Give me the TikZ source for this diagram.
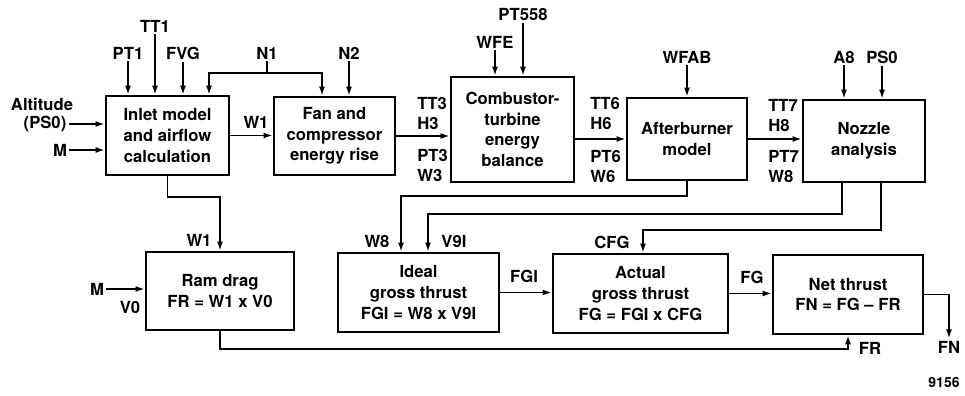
\documentclass[tikz,border=0pt]{standalone}
\usepackage{fontspec}
\setmainfont{TeX Gyre Heros}
\usetikzlibrary{arrows.meta,positioning,calc}
\tikzset{
  blk/.style={draw, line width=1.6pt, align=center, inner sep=2pt,
    font=\bfseries\fontsize{12.5}{15.5}\selectfont},
  flow/.style={-{Latex[length=7pt,width=4.5pt]}, line width=1.4pt},
  wire/.style={line width=1.4pt},
  sig/.style={font=\bfseries\fontsize{12.5}{15}\selectfont, inner sep=1.5pt},
  sigs/.style={sig, align=left, anchor=west},
  tag/.style={font=\bfseries\fontsize{10.5}{12}\selectfont},
}
\begin{document}
\begin{tikzpicture}[x=0.75pt,y=-0.75pt]
\useasboundingbox (0,0) rectangle (965,396);

% ============ top row: engine stations ======================================
\node[blk, minimum width=92.25pt, minimum height=59.25pt] (inlet) at (167.5,135.5) {Inlet model\\and airflow\\calculation};
\node[blk, minimum width=90.75pt, minimum height=58.5pt] (fan) at (334.5,136) {Fan and\\compressor\\energy rise};
\node[blk, minimum width=92.25pt, minimum height=78.75pt] (comb) at (512.5,129.5) {Combustor-\\turbine\\energy\\balance};
\node[blk, minimum width=90pt, minimum height=61.5pt] (aburn) at (687,139) {Afterburner\\model};
\node[blk, minimum width=91.5pt, minimum height=61.5pt] (nozz) at (864,141) {Nozzle\\analysis};

% inputs from above
\foreach \nm/\t/\x/\y/\b in {pt1/PT1/128/53/inlet, tt1/TT1/155/26/inlet, fvg/FVG/183/53/inlet,
    n2/N2/349/53/fan, wfe/WFE/495/42/comb, pt558/PT558/523/15/comb,
    wfab/WFAB/687/57/aburn, a8/A8/844/57/nozz, ps0/PS0/882/57/nozz}{
  \node[sig] (\nm) at (\x,\y) {\t};
  \draw[flow] (\nm) -- (\nm |- \b.north);}

% N1 feeds both inlet and fan
\node[sig] (n1) at (267,53) {N1};
\coordinate (n1j) at (267,73);
\draw[wire] (n1) -- (n1j);
\draw[flow] (n1j) -| (209,0 |- inlet.north);
\draw[flow] (n1j) -| (322,0 |- fan.north);

% inputs from the left
\node[sig] (alt) at (42,104) {Altitude};
\node[sig] (ps0l) at (45,124) {(PS0)};
\draw[flow] (ps0l) -- (ps0l -| inlet.west);
\node[sig] (m1) at (60,150) {M};
\draw[flow] (m1) -- (m1 -| inlet.west);

% stage to stage
\draw[flow] (inlet.east) -- (inlet.east -| fan.west);
\node[sig] (w1a) at (256,122) {W1};
\draw[flow] (fan.east) -- (fan.east -| comb.west);
\node[sigs] (tt3) at (415,113) {TT3\\H3};
\node[sigs] (pt3) at (415,165) {PT3\\W3};
\draw[flow] (aburn.west -| comb.east) -- (aburn.west);
\node[sigs] (tt6) at (588,113) {TT6\\H6};
\node[sigs] (pt6) at (588,166) {PT6\\W6};
\draw[flow] (aburn.east) -- (aburn.east -| nozz.west);
\node[sigs] (tt7) at (766,115) {TT7\\H8};
\node[sigs] (pt7) at (766,166) {PT7\\W8};

% ============ bottom row: thrust bookkeeping ================================
\node[blk, minimum width=111pt, minimum height=58.5pt] (ram) at (220,291) {Ram drag\\FR = W1 x V0};
\node[blk, minimum width=120.75pt, minimum height=59.25pt] (ideal) at (418.5,292.5) {Ideal\\gross thrust\\FGI = W8 x V9I};
\node[blk, minimum width=131.25pt, minimum height=59.25pt] (actual) at (640.5,293.5) {Actual\\gross thrust\\FG = FGI x CFG};
\node[blk, minimum width=112.5pt, minimum height=59.25pt] (net) at (848,294.5) {Net thrust\\FN = FG -- FR};

% ram drag
\draw[flow] (inlet.south) -- ++(0,21) -| (ram.north);
\node[sig] (w1b) at (199,240) {W1};
\node[sig] (m2) at (97,289) {M};
\draw[flow] (m2) -- (m2 -| ram.west);
\node[sig] (v0) at (130,307) {V0};

% ideal and actual gross thrust
\draw[flow] (aburn.south) -- ++(0,15) -| (401,0 |- ideal.north);
\draw[flow] (842,0 |- nozz.south) -- ++(0,31) -| (428,0 |- ideal.north);
\draw[flow] (881,0 |- nozz.south) -- ++(0,47) -| (643,0 |- actual.north);
\node[sig] (w8) at (377,241) {W8};
\node[sig] (v9i) at (454,241) {V9I};
\node[sig] (cfg) at (612,242) {CFG};
\draw[flow] (ideal.east) -- (ideal.east -| actual.west);
\node[sig] (fgi) at (524,276) {FGI};
\draw[flow] (actual.east) -- (actual.east -| net.west);
\node[sig] (fg) at (752,277) {FG};

% net thrust
\draw[flow] (ram.south) -- ++(0,18) -| (net.south);
\node[sig] (fr) at (870,348) {FR};
\node[sig] (fn) at (949,347) {FN};
\draw[flow] (net) -| (fn);

\node[tag] (fignum) at (944,382) {9156};
\end{tikzpicture}
\end{document}
